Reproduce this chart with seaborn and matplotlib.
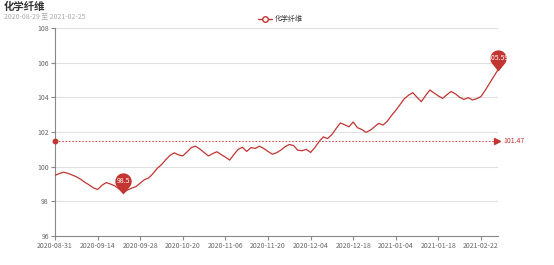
import numpy as np
import pandas as pd
import matplotlib
matplotlib.use("Agg")
import matplotlib.pyplot as plt
import seaborn as sns
from matplotlib.path import Path
from matplotlib.lines import Line2D

title = "化学纤维"
subtitle = "2020-08-29 至 2021-02-25"
series_name = "化学纤维"

values = [
    99.50, 99.60, 99.68, 99.62, 99.52, 99.42, 99.28, 99.10, 98.95, 98.78,
    98.68, 98.92, 99.08, 99.00, 98.90, 98.72, 98.50, 98.65, 98.76, 98.85,
    99.05, 99.25, 99.35, 99.60, 99.90, 100.12, 100.40, 100.65, 100.80, 100.68,
    100.62, 100.85, 101.10, 101.18, 101.02, 100.82, 100.62, 100.75, 100.86, 100.70,
    100.55, 100.38, 100.70, 101.00, 101.12, 100.88, 101.10, 101.05, 101.18, 101.05,
    100.88, 100.72, 100.80, 100.95, 101.15, 101.28, 101.22, 100.95, 100.92, 101.00,
    100.82, 101.10, 101.45, 101.72, 101.62, 101.85, 102.20, 102.52, 102.42, 102.30,
    102.58, 102.25, 102.15, 101.98, 102.10, 102.30, 102.50, 102.40, 102.62, 102.95,
    103.25, 103.58, 103.92, 104.12, 104.27, 104.00, 103.75, 104.10, 104.42, 104.25,
    104.08, 103.94, 104.15, 104.34, 104.20, 104.00, 103.88, 103.98, 103.85, 103.92,
    104.05, 104.40, 104.80, 105.20, 105.59,
]
tick_index = [0, 10, 20, 30, 40, 50, 60, 70, 80, 90, 100]
tick_labels = ["2020-08-31", "2020-09-14", "2020-09-28", "2020-10-20", "2020-11-06",
               "2020-11-20", "2020-12-04", "2020-12-18", "2021-01-04", "2021-01-18",
               "2021-02-22"]
y_ticks = [96, 98, 100, 102, 104, 106, 108]

RED = "#c23531"

sns.set_theme(style="white")
plt.rcParams["font.family"] = ["Noto Sans CJK SC", "DejaVu Sans"]

df = pd.DataFrame({"idx": np.arange(len(values)), "value": values})

fig = plt.figure(figsize=(5.54, 2.65), dpi=100)
ax = fig.add_axes([55 / 554, 1 - 236 / 265, (498 - 55) / 554, (236 - 28) / 265])

for y in y_ticks[1:]:
    ax.axhline(y, color="#e0e0e0", lw=0.8, zorder=0)

sns.lineplot(data=df, x="idx", y="value", ax=ax, color=RED, lw=0.9, zorder=3)

ax.set_xlim(0, len(values) - 1)
ax.set_ylim(y_ticks[0], y_ticks[-1])
ax.set_xticks(tick_index)
ax.set_xticklabels(tick_labels)
ax.set_yticks(y_ticks)
ax.set_yticklabels([str(v) for v in y_ticks])
ax.set_xlabel("")
ax.set_ylabel("")
for side in ["top", "right"]:
    ax.spines[side].set_visible(False)
for side in ["left", "bottom"]:
    ax.spines[side].set_color("#888888")
    ax.spines[side].set_linewidth(0.8)
ax.tick_params(axis="both", which="both", length=3, width=0.8, color="#888888",
               labelsize=5, labelcolor="#666666", pad=1.5, direction="out")
ax.tick_params(axis="x", bottom=True)
ax.tick_params(axis="y", left=True)

# average mark line
avg = float(np.mean(values))
n = len(values)
ax.plot([0, n - 1.4], [avg, avg], ls=(0, (2, 2)), color=RED, lw=0.6, zorder=2)
ax.plot([n - 1.2], [avg], marker=">", ms=5, color=RED, clip_on=False, zorder=4)
ax.plot([0], [avg], marker="o", ms=3.2, color=RED, clip_on=False, zorder=4)
ax.annotate(f"{avg:.2f}", (n - 1, avg), xytext=(4, 0), textcoords="offset points",
            fontsize=5, color=RED, va="center", ha="left", annotation_clip=False)

# pin markers for min & max
h, r = 1.6, 1.0
a0 = np.degrees(np.arccos(r / h))
angs = np.radians(np.linspace(-90 + a0, 270 - a0, 60))
verts = [(r * np.cos(t), h + r * np.sin(t)) for t in angs] + [(0, 0), (r * np.cos(angs[0]), h + r * np.sin(angs[0]))]
codes = [Path.MOVETO] + [Path.LINETO] * (len(verts) - 2) + [Path.CLOSEPOLY]
pin = Path(verts, codes)
ms = 28
for i in [int(np.argmin(values)), int(np.argmax(values))]:
    v = values[i]
    ax.plot([i], [v], marker=pin, ms=ms, color=RED, mec=RED, clip_on=False, zorder=5)
    ax.annotate(f"{v:g}", (i, v), xytext=(0, 0.5 * ms * h / (h + r)), textcoords="offset points",
                fontsize=5, color="white", ha="center", va="center", zorder=6,
                annotation_clip=False)

# title & subtitle
fig.text(4 / 554, 1 - 2 / 265, title, fontsize=7.5, fontweight="bold", color="#333333",
         ha="left", va="top")
fig.text(4 / 554, 1 - 12 / 265, subtitle, fontsize=5, color="#aaaaaa", ha="left", va="top")

# legend
handle = Line2D([], [], color=RED, lw=1, marker="o", mfc="white", mec=RED, ms=4)
fig.legend([handle], [series_name], loc="center", bbox_to_anchor=(280 / 554, 1 - 19 / 265),
           frameon=False, fontsize=5, handlelength=2, handletextpad=0.4, labelcolor="#333333")

fig.savefig("out.png", dpi=100)
